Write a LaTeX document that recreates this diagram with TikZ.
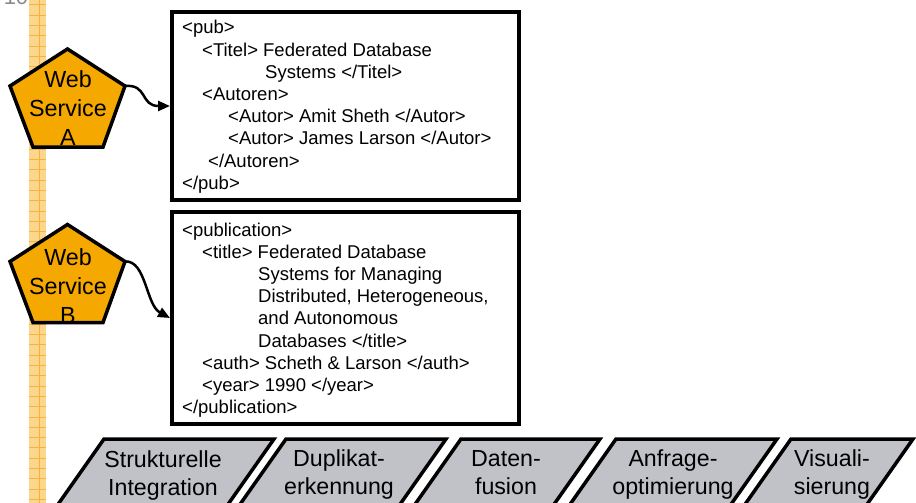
\documentclass[tikz,border=0pt]{standalone}
\usepackage{fontspec}
\setmainfont{Liberation Sans}
\usetikzlibrary{fit,arrows.meta}

\definecolor{stripfill}{HTML}{FCD68C}
\definecolor{stripline}{HTML}{F5B43C}
\definecolor{svcorange}{HTML}{F5A800}
\definecolor{stagegrey}{HTML}{C0C2C8}
\definecolor{pagegrey}{HTML}{8A8A8A}

\begin{document}
\begin{tikzpicture}[x=1pt,y=-1pt,
  svc/.style={draw=black, line width=3.5pt, fill=svcorange, line join=miter},
  svclabel/.style={anchor=base, inner sep=0, font=\fontsize{23.3}{29}\selectfont},
  xmlbox/.style={draw=black, line width=4pt, inner sep=0pt, fill=white},
  xmltext/.style={anchor=base west, inner sep=0, font=\fontsize{18.5}{22.2}\selectfont},
  flow/.style={line width=2.5pt, -{Triangle[length=12pt,width=10pt]}},
  stage/.style={draw=black, line width=3.5pt, fill=stagegrey, line join=miter},
  stagelabel/.style={anchor=base, inner sep=0, font=\fontsize{23.2}{28}\selectfont}
]
\useasboundingbox (0,0) rectangle (916,503);

% page number, mostly cut off at the top edge
\node[anchor=base, inner sep=0, text=pagegrey, font=\fontsize{22}{26}\selectfont] (pagenum) at (16,5) {10};

% chequered margin strip
\fill[stripfill] (29,0) rectangle (46,503);
\draw[stripline, line width=1pt] (39.5,0) -- (39.5,503);
\foreach \i in {0,...,48}
  \draw[stripline, line width=1pt] (29,5+\i*10.3) -- (46,5+\i*10.3);

% web service A
\coordinate (svcA-t) at (67.5,49);
\coordinate (svcA-r) at (125,86);
\coordinate (svcA-br) at (103,147);
\coordinate (svcA-bl) at (33,147);
\coordinate (svcA-l) at (10,86);
\draw[svc] (svcA-t) -- (svcA-r) -- (svcA-br) -- (svcA-bl) -- (svcA-l) -- cycle;
\node[svclabel] (svcA) at (68,88)
  {\begin{tabular}[t]{@{}c@{}}Web\\Service\\A\end{tabular}};

% web service B
\coordinate (svcB-t) at (67.5,224.5);
\coordinate (svcB-r) at (125,261.5);
\coordinate (svcB-br) at (103,322.5);
\coordinate (svcB-bl) at (33,322.5);
\coordinate (svcB-l) at (10,261.5);
\draw[svc] (svcB-t) -- (svcB-r) -- (svcB-br) -- (svcB-bl) -- (svcB-l) -- cycle;
\node[svclabel] (svcB) at (68,265)
  {\begin{tabular}[t]{@{}c@{}}Web\\Service\\B\end{tabular}};

% XML documents
\node[xmlbox, fit={(172,12) (519,200)}] (boxA) {};
\node[xmlbox, fit={(172,212) (519,424)}] (boxB) {};

\node[xmltext] (xmlA) at (182,34) {\begin{tabular}[t]{@{}l@{}}
<pub>\\
\hspace*{20pt}<Titel> Federated Database\\
\hspace*{83pt}Systems </Titel>\\
\hspace*{20pt}<Autoren>\\
\hspace*{46pt}<Autor> Amit Sheth </Autor>\\
\hspace*{46pt}<Autor> James Larson </Autor>\\
\hspace*{26pt}</Autoren>\\
</pub>
\end{tabular}};

\node[xmltext] (xmlB) at (182,236) {\begin{tabular}[t]{@{}l@{}}
<publication>\\
\hspace*{20pt}<title> Federated Database\\
\hspace*{76pt}Systems for Managing\\
\hspace*{76pt}Distributed, Heterogeneous,\\
\hspace*{76pt}and Autonomous\\
\hspace*{76pt}Databases </title>\\
\hspace*{20pt}<auth> Scheth \& Larson </auth>\\
\hspace*{20pt}<year> 1990 </year>\\
</publication>
\end{tabular}};

% connectors
\draw[flow] (svcA-r) .. controls (148,84) and (140,106) .. (boxA.west);
\draw[flow] (svcB-r) .. controls (146,260) and (146,305) .. (boxB.west);

% integration stages
\foreach \a/\b in {104/274, 286/446, 461/600, 616/777, 791/913}
  \draw[stage] (\a,439) -- (\b,439) -- (\b-57,520) -- (\a-57,520) -- cycle;

\node[stagelabel] (s1) at (163,467) {\begin{tabular}[t]{@{}c@{}}Strukturelle\\Integration\end{tabular}};
\node[stagelabel] (s2) at (339,466) {\begin{tabular}[t]{@{}c@{}}Duplikat-\\erkennung\end{tabular}};
\node[stagelabel] (s3) at (506,466) {\begin{tabular}[t]{@{}c@{}}Daten-\\fusion\end{tabular}};
\node[stagelabel] (s4) at (673,466) {\begin{tabular}[t]{@{}c@{}}Anfrage-\\optimierung\end{tabular}};
\node[stagelabel] (s5) at (832,466) {\begin{tabular}[t]{@{}c@{}}Visuali-\\sierung\end{tabular}};
\end{tikzpicture}
\end{document}
